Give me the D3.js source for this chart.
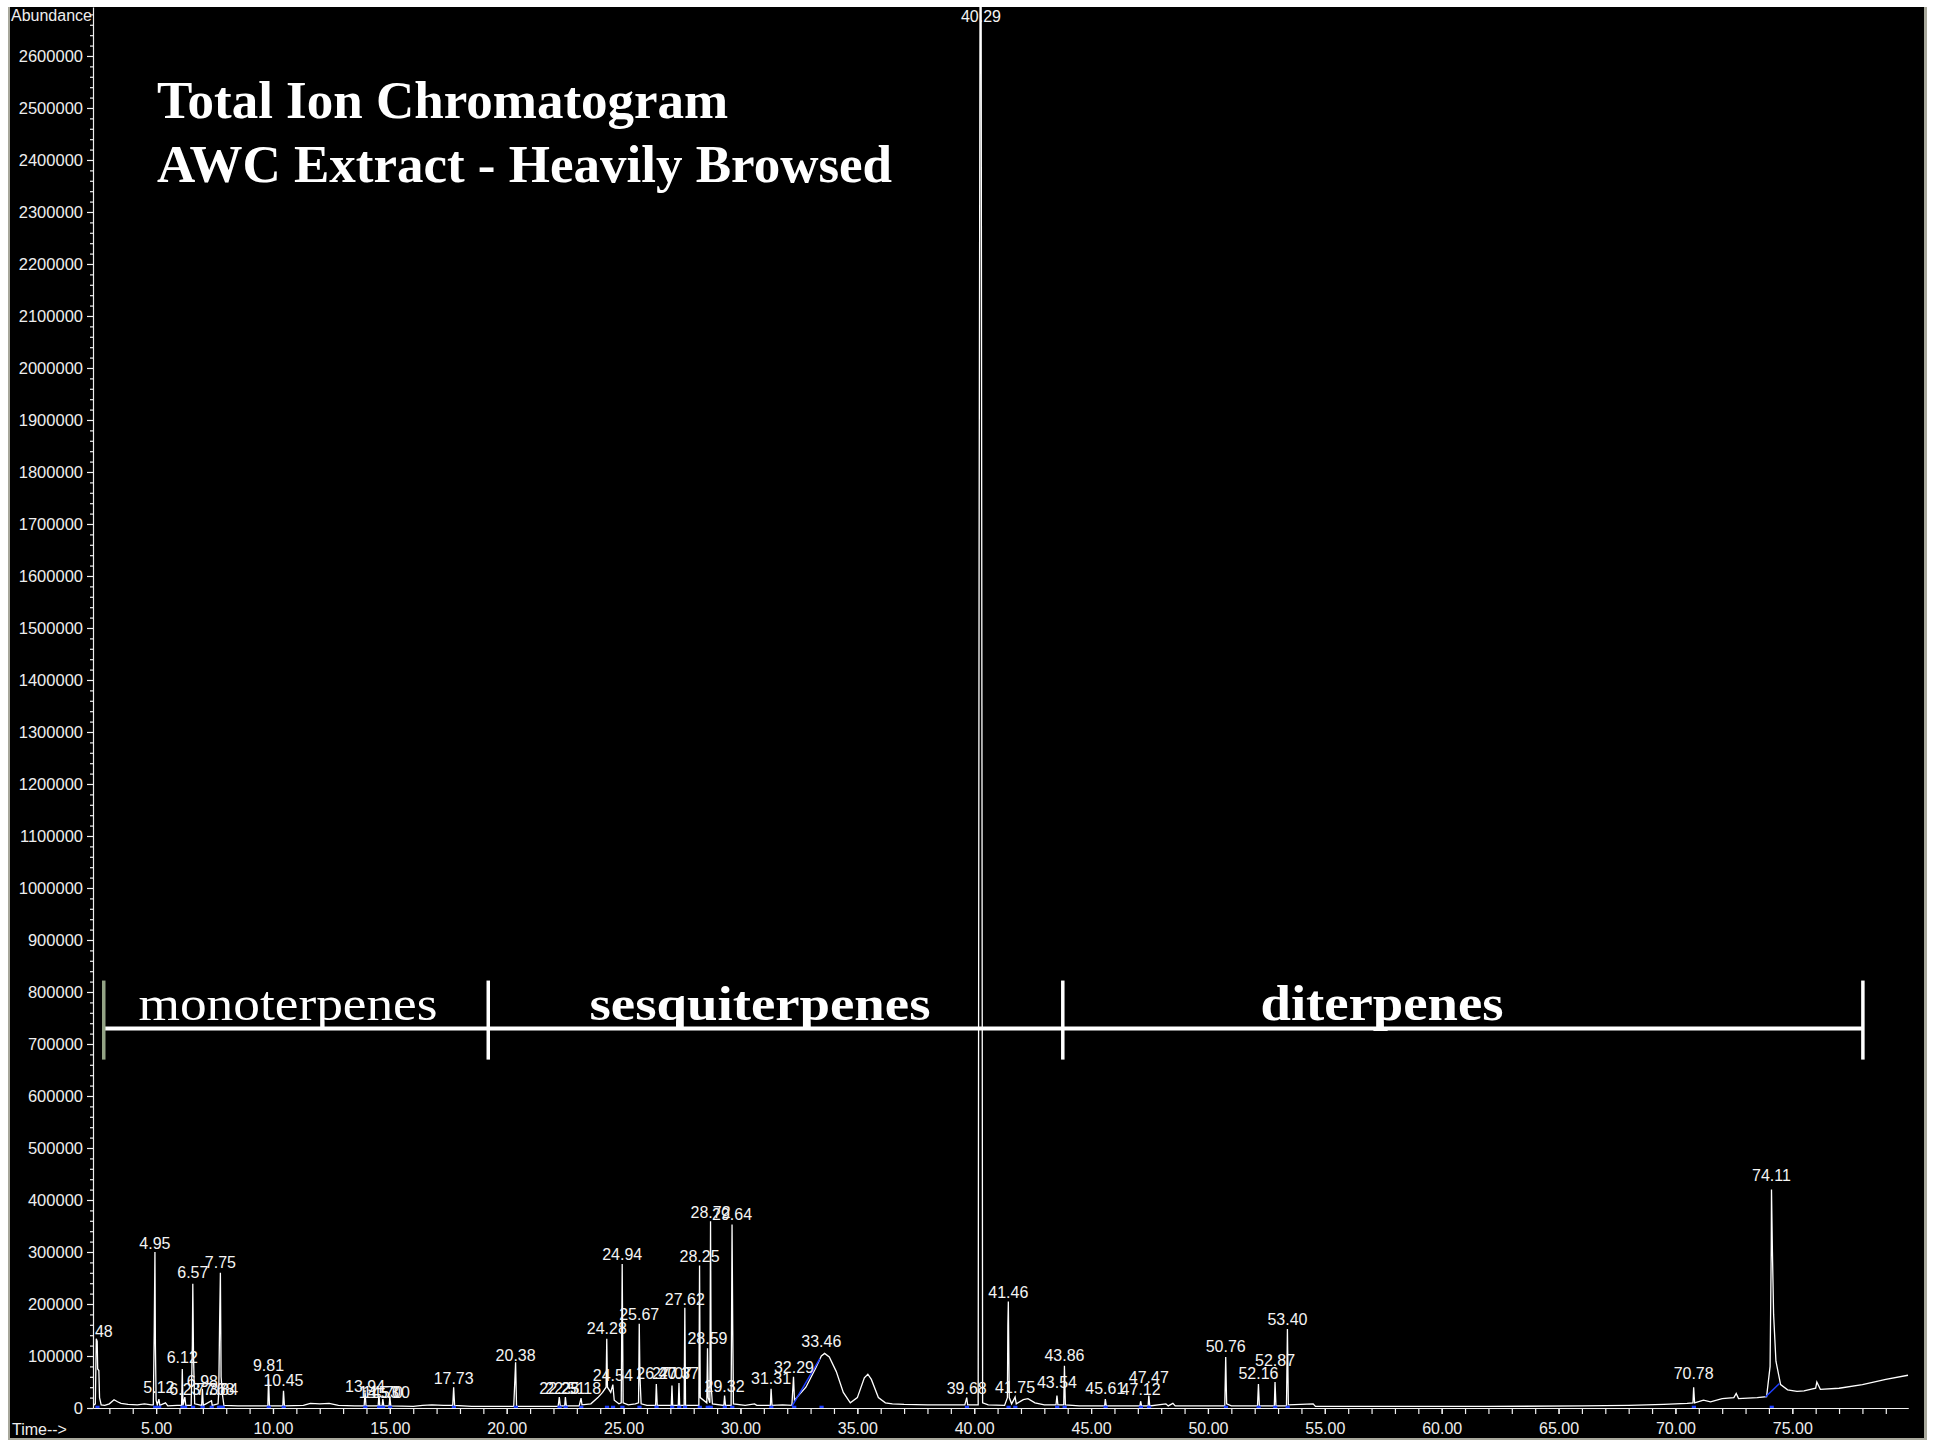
<!DOCTYPE html>
<html>
<head>
<meta charset="utf-8">
<script src="https://cdn.jsdelivr.net/npm/d3@7"></script>
<style>
body { margin: 0; background: #fff; }
svg { display: block; }
</style>
</head>
<body>
<svg id="tic" width="1933" height="1440"></svg>
<script>
// total ion chromatogram trace, [time (min), abundance]
var trace = [
  [2.32, 5000], [2.40, 8000], [2.44, 133000], [2.48, 128000], [2.50, 75000], [2.55, 72000], [2.58, 20000],
  [2.65, 6000], [2.8, 5000], [3.0, 8000], [3.2, 16000], [3.35, 12000], [3.5, 9000], [3.8, 7000], [4.2, 6000],
  [4.5, 8000], [4.8, 6000], [4.88, 6000], [4.92, 148000], [4.95, 300000], [4.97, 120000], [5.0, 15000],
  [5.05, 6000], [5.12, 17000], [5.16, 5000], [5.4, 10000], [5.5, 4000], [5.9, 5000], [6.09, 5000],
  [6.12, 75000], [6.15, 5000], [6.23, 21000], [6.27, 5000], [6.5, 5000], [6.55, 120000], [6.57, 239000],
  [6.6, 100000], [6.65, 8000], [6.95, 5000], [6.98, 37000], [7.02, 5000], [7.37, 14000], [7.4, 5000],
  [7.65, 8000], [7.68, 30000], [7.72, 175000], [7.75, 260000], [7.78, 60000], [7.84, 25000], [7.9, 5000],
  [8.5, 4000], [9.0, 4000], [9.5, 4000], [9.78, 4000], [9.81, 56000], [9.85, 4000], [10.42, 4000],
  [10.45, 33000], [10.49, 4000], [11.3, 5000], [11.6, 9000], [12.0, 8000], [12.4, 9000], [12.8, 5000],
  [13.5, 4000], [13.9, 4000], [13.94, 30000], [13.98, 4000], [14.5, 4000], [14.53, 24000], [14.57, 4000],
  [14.67, 4000], [14.70, 17000], [14.74, 4000], [14.97, 4000], [15.0, 21000], [15.04, 4000], [16.0, 3000],
  [16.4, 5000], [16.8, 6000], [17.3, 5000], [17.69, 5000], [17.73, 40000], [17.77, 5000], [18.5, 3000],
  [19.5, 3000], [20.3, 3000], [20.38, 88000], [20.42, 3000], [21.5, 3000], [22.2, 3000], [22.25, 21000],
  [22.29, 4000], [22.48, 4000], [22.51, 21000], [22.55, 4000], [23.1, 4000], [23.18, 19000], [23.22, 6000],
  [23.6, 8000], [23.9, 20000], [24.1, 30000], [24.25, 40000], [24.28, 133000], [24.31, 40000],
  [24.45, 30000], [24.54, 45000], [24.6, 15000], [24.8, 8000], [24.9, 10000], [24.94, 277000],
  [24.98, 10000], [25.2, 6000], [25.5, 8000], [25.64, 10000], [25.67, 162000], [25.7, 60000], [25.75, 8000],
  [26.0, 5000], [26.37, 5000], [26.40, 46000], [26.44, 5000], [27.04, 5000], [27.07, 43000], [27.1, 5000],
  [27.34, 5000], [27.37, 48000], [27.4, 5000], [27.59, 5000], [27.62, 193000], [27.65, 5000], [28.0, 5000],
  [28.22, 5000], [28.25, 274000], [28.28, 20000], [28.56, 10000], [28.59, 115000], [28.62, 20000],
  [28.69, 10000], [28.72, 359000], [28.75, 40000], [28.8, 8000], [29.29, 5000], [29.32, 24000],
  [29.36, 5000], [29.6, 5000], [29.64, 353000], [29.67, 150000], [29.7, 8000], [30.2, 5000], [30.6, 8000],
  [30.7, 5000], [31.28, 5000], [31.31, 37000], [31.35, 5000], [31.8, 6000], [32.2, 5000], [32.27, 60000],
  [32.31, 15000], [32.8, 40000], [33.2, 75000], [33.46, 100000], [33.6, 105000], [33.8, 98000],
  [34.1, 70000], [34.4, 30000], [34.7, 10000], [35.0, 20000], [35.3, 58000], [35.45, 65000], [35.6, 55000],
  [35.9, 20000], [36.2, 10000], [36.5, 8000], [37.0, 7000], [38.0, 6000], [39.0, 6000], [39.6, 6000],
  [39.68, 20000], [39.72, 6000], [40.17, 6000], [40.21, 1650000], [40.26, 3000000], [40.29, 3000000],
  [40.33, 1350000], [40.36, 10000], [40.6, 6000], [41.3, 5000], [41.42, 20000], [41.44, 160000],
  [41.46, 205000], [41.5, 20000], [41.6, 8000], [41.75, 21000], [41.8, 8000], [42.1, 16000], [42.3, 18000],
  [42.6, 10000], [43.0, 6000], [43.5, 6000], [43.54, 24000], [43.58, 6000], [43.83, 6000], [43.86, 81000],
  [43.9, 6000], [44.5, 4000], [45.58, 4000], [45.61, 17000], [45.65, 4000], [46.5, 4000], [47.09, 4000],
  [47.12, 13000], [47.16, 4000], [47.44, 4000], [47.47, 24000], [47.51, 4000], [48.2, 8000], [48.3, 4000],
  [48.5, 9000], [48.6, 4000], [49.5, 4000], [50.72, 4000], [50.76, 98000], [50.8, 8000], [51.0, 4000],
  [52.12, 4000], [52.16, 46000], [52.2, 4000], [52.84, 4000], [52.87, 50000], [52.91, 4000], [53.36, 4000],
  [53.40, 152000], [53.44, 6000], [54.5, 8000], [54.6, 3000], [58.0, 3000], [62.0, 3000], [66.0, 4000],
  [68.0, 5000], [69.5, 7000], [70.5, 9000], [70.75, 10000], [70.78, 40000], [70.82, 10000], [71.2, 15000],
  [71.5, 12000], [72.0, 18000], [72.5, 20000], [72.6, 28000], [72.7, 18000], [73.5, 20000], [73.9, 22000],
  [74.05, 80000], [74.1, 310000], [74.11, 420000], [74.15, 300000], [74.2, 180000], [74.3, 90000],
  [74.5, 45000], [74.8, 35000], [75.2, 32000], [75.5, 33000], [76.0, 38000], [76.05, 50000], [76.2, 36000],
  [77.0, 38000], [78.0, 45000], [79.0, 55000], [79.95, 63000]
]

// labelled peaks: retention time and the abundance where its label sits
var peakTimes = [2.48, 4.95, 5.12, 6.12, 6.23, 6.57, 6.98, 7.37, 7.68, 7.75, 7.84, 9.81, 10.45, 13.94,
  14.53, 14.70, 15.00, 17.73, 20.38, 22.25, 22.51, 23.18, 24.28, 24.54, 24.94, 25.67, 26.40, 27.07, 27.37,
  27.62, 28.25, 28.59, 28.72, 29.32, 29.64, 31.31, 32.29, 33.46, 39.68, 40.29, 41.46, 41.75, 43.54, 43.86,
  45.61, 47.12, 47.47, 50.76, 52.16, 52.87, 53.40, 70.78, 74.11]
var labelLevels = [137000, 305000, 29000, 87000, 25000, 250000, 40000, 25000, 25000, 270000, 25000, 71000,
  42000, 31000, 19000, 19000, 19000, 46000, 90000, 27000, 27000, 27000, 143000, 52000, 285000, 170000,
  56000, 56000, 56000, 199000, 281000, 123000, 366000, 31000, 362000, 46000, 67000, 118000, 27000,
  2666000, 212000, 29000, 39000, 90000, 27000, 25000, 48000, 108000, 56000, 81000, 160000, 56000, 436000]

// integration baselines (blue)
var baselines = [[[32.2, 3000], [33.4, 95000]], [[73.85, 21000], [74.45, 47000]]]

var timeTicks = [5, 10, 15, 20, 25, 30, 35, 40, 45, 50, 55, 60, 65, 70, 75]
var abundanceTicks = [0, 100000, 200000, 300000, 400000, 500000, 600000, 700000, 800000, 900000, 1000000,
  1100000, 1200000, 1300000, 1400000, 1500000, 1600000, 1700000, 1800000, 1900000, 2000000, 2100000,
  2200000, 2300000, 2400000, 2500000, 2600000]

var classNames = ['monoterpenes', 'sesquiterpenes', 'diterpenes']
var classBounds = [2.76, 19.21, 43.79, 78.02]
var titleLines = ['Total Ion Chromatogram', 'AWC Extract - Heavily Browsed']

var svg = d3.select('#tic')
var margin = { left: 93, right: 1908, top: 7.1, bottom: 1408 }

// frame
svg.append('rect').attr('x', 8).attr('y', 7).attr('width', 1919).attr('height', 1433).attr('fill', '#a8a89c')
svg.append('rect').attr('x', 10).attr('y', 7).attr('width', 1914).attr('height', 1431).attr('fill', '#000')

var x = d3.scaleLinear().domain([2.3, 79.95]).range([margin.left, margin.right])
var y = d3.scaleLinear().domain([0, 2694000]).range([margin.bottom, margin.top])

svg.append('clipPath').attr('id', 'plot')
  .append('rect').attr('x', margin.left + 1).attr('y', margin.top)
  .attr('width', margin.right - margin.left).attr('height', margin.bottom - margin.top)

var font = '"Liberation Sans", Arial, sans-serif'

// y axis
var minorY = []
for (var v = 0; v <= 2680000; v += 20000) if (v % 100000) minorY.push(v)
svg.append('g').attr('transform', 'translate(' + margin.left + ',0)')
  .call(d3.axisLeft(y).tickValues(minorY).tickSize(3).tickSizeOuter(0).tickFormat(''))
  .call(g => g.select('.domain').remove())
svg.append('g').attr('transform', 'translate(' + margin.left + ',0)')
  .call(d3.axisLeft(y).tickValues(abundanceTicks).tickSize(6).tickSizeOuter(0).tickPadding(4).tickFormat(d3.format('d')))
  .call(g => g.selectAll('text').attr('font-size', 16.5).attr('font-family', font).attr('fill', '#eee'))

// x axis
var minorX = []
for (var t = 3; t <= 79; t++) minorX.push(t)
svg.append('g').attr('transform', 'translate(0,' + margin.bottom + ')')
  .call(d3.axisBottom(x).tickValues(minorX).tickSize(6).tickSizeOuter(0).tickFormat(''))
svg.append('g').attr('transform', 'translate(0,' + margin.bottom + ')')
  .call(d3.axisBottom(x).tickValues(timeTicks).tickSize(6).tickSizeOuter(0).tickPadding(9).tickFormat(d3.format('.2f')))
  .call(g => g.selectAll('text').attr('font-size', 16).attr('font-family', font).attr('fill', '#eee'))

svg.selectAll('.domain, .tick line').attr('stroke', '#f0f0f0').attr('stroke-width', 1.2)

svg.append('text').text('Abundance').attr('x', 11).attr('y', 21)
  .attr('font-size', 16).attr('font-family', font).attr('fill', '#eee')
svg.append('text').text('Time-->').attr('x', 12).attr('y', 1435)
  .attr('font-size', 16).attr('font-family', font).attr('fill', '#eee')

// trace
var plot = svg.append('g').attr('clip-path', 'url(#plot)')
plot.append('path').datum(trace)
  .attr('d', d3.line().x(d => x(d[0])).y(d => y(d[1])))
  .attr('fill', 'none').attr('stroke', '#fff').attr('stroke-width', 1.3)

// integration marks
plot.selectAll('.base').data(baselines).enter().append('path')
  .attr('d', d3.line().x(d => x(d[0])).y(d => y(d[1])))
  .attr('stroke', '#1f3fff').attr('stroke-width', 1.5)
plot.selectAll('.mark').data(peakTimes.filter(d => d !== 40.29)).enter().append('line')
  .attr('x1', d => x(d - 0.08)).attr('x2', d => x(d + 0.1))
  .attr('y1', y(2000)).attr('y2', y(2000))
  .attr('stroke', '#1f3fff').attr('stroke-width', 2.5)

// peak labels
plot.selectAll('.peak').data(peakTimes).enter().append('text')
  .attr('x', d => x(d)).attr('y', (d, i) => y(labelLevels[i]))
  .attr('text-anchor', 'middle').attr('font-size', 16).attr('font-family', font).attr('fill', '#f4f4f4')
  .text(d => d.toFixed(2))

// compound class brackets
var bracketY = y(730000)
var br = svg.append('g')
br.append('line').attr('x1', x(classBounds[0])).attr('x2', x(classBounds[3]))
  .attr('y1', bracketY).attr('y2', bracketY).attr('stroke', '#fff').attr('stroke-width', 4)
br.selectAll('.tick').data(classBounds).enter().append('line')
  .attr('x1', d => x(d)).attr('x2', d => x(d))
  .attr('y1', y(822000)).attr('y2', y(670000))
  .attr('stroke', (d, i) => i === 0 ? '#93a385' : '#fff').attr('stroke-width', 3.5)

var classLabelX = [288, 760, 1382]
var classLabelW = [299, 341, 243]
br.selectAll('.cls').data(classNames).enter().append('text')
  .attr('x', (d, i) => classLabelX[i] - classLabelW[i] / 2).attr('y', y(746000))
  .attr('textLength', (d, i) => classLabelW[i]).attr('lengthAdjust', 'spacingAndGlyphs')
  .attr('font-family', '"Liberation Serif", "Times New Roman", serif')
  .attr('font-size', (d, i) => i === 2 ? 50 : 48)
  .attr('font-weight', (d, i) => i === 0 ? 'normal' : 'bold')
  .attr('fill', '#fff')
  .text(d => d)

// title
svg.selectAll('.title').data(titleLines).enter().append('text')
  .attr('x', 157).attr('y', (d, i) => 118 + i * 64)
  .attr('font-family', '"Liberation Serif", "Times New Roman", serif')
  .attr('font-size', 53).attr('font-weight', 'bold').attr('fill', '#fff')
  .text(d => d)
</script>
</body>
</html>
